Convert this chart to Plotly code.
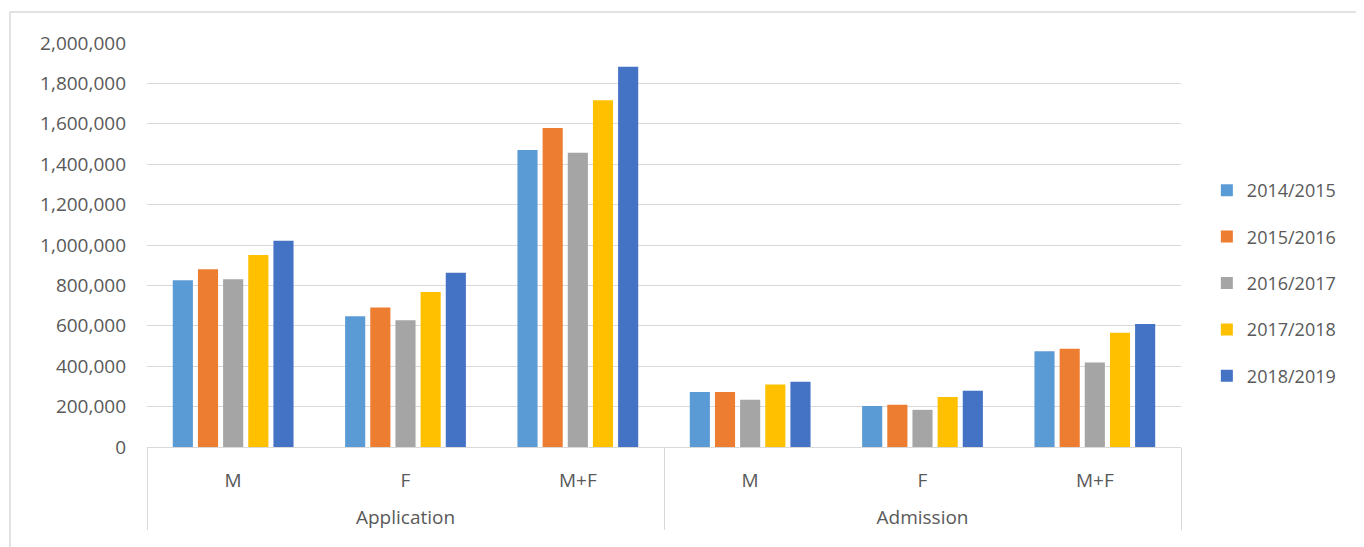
import plotly.graph_objects as go

groups = ["Application"] * 3 + ["Admission"] * 3
sexes = ["M", "F", "M+F"] * 2
years = ["2014/2015", "2015/2016", "2016/2017", "2017/2018", "2018/2019"]
colors = ["#5B9BD5", "#ED7D31", "#A5A5A5", "#FFC000", "#4472C4"]

v_2014 = [826000, 647000, 1470000, 272000, 203000, 474000]
v_2015 = [880000, 691000, 1579000, 272000, 209000, 487000]
v_2016 = [830000, 627000, 1457000, 234000, 184000, 418000]
v_2017 = [951000, 767000, 1717000, 310000, 247000, 565000]
v_2018 = [1021000, 863000, 1883000, 323000, 278000, 609000]
series = [v_2014, v_2015, v_2016, v_2017, v_2018]

font = "Open Sans, Noto Sans, sans-serif"
grey_text = "#595959"

# outer labels get a blank first line so they sit lower, like the original
outer = ["<br>" + g for g in groups]

fig = go.Figure()
for name, vals, col in zip(years, series, colors):
    fig.add_trace(
        go.Bar(
            name=name,
            x=[outer, sexes],
            y=vals,
            marker={"color": col, "line": {"width": 0}},
            legendgroup=name,
        )
    )

# page body adds an 8px offset; plot area should land at x 147..1181, y 43..447
fig.update_layout(
    width=1364,
    height=547,
    margin={"l": 139, "r": 191, "t": 35, "b": 108, "autoexpand": False},
    paper_bgcolor="white",
    plot_bgcolor="white",
    barmode="group",
    bargap=0.27,
    bargroupgap=0.2,
    font={"family": font, "color": grey_text, "size": 19},
    legend={
        "x": 1.025,
        "y": 0.406,
        "yanchor": "middle",
        "xanchor": "left",
        "font": {"size": 18, "color": grey_text},
        "tracegroupgap": 20,
        "itemwidth": 30,
    },
    xaxis={
        "showgrid": False,
        "showline": True,
        "linecolor": "#d9d9d9",
        "ticks": "",
        "showdividers": True,
        "dividercolor": "#d9d9d9",
        "dividerwidth": 1,
        "ticklabelstandoff": 16,
        "tickfont": {"size": 19, "color": grey_text},
    },
    yaxis={
        "range": [0, 2000000],
        "dtick": 200000,
        "tickformat": ",d",
        "showgrid": True,
        "gridcolor": "#d9d9d9",
        "zeroline": False,
        "ticks": "",
        "ticklabelstandoff": 20,
        "tickfont": {"size": 19, "color": grey_text},
    },
    shapes=[
        {
            "type": "rect",
            "xref": "paper",
            "yref": "paper",
            "x0": (10 - 147) / 1034,
            "x1": (1360 - 147) / 1034,
            "y0": -0.6,
            "y1": (447 - 12) / 404,
            "line": {"color": "#d9d9d9", "width": 1.5},
            "layer": "below",
        }
    ],
)

fig.write_html("out.html")
